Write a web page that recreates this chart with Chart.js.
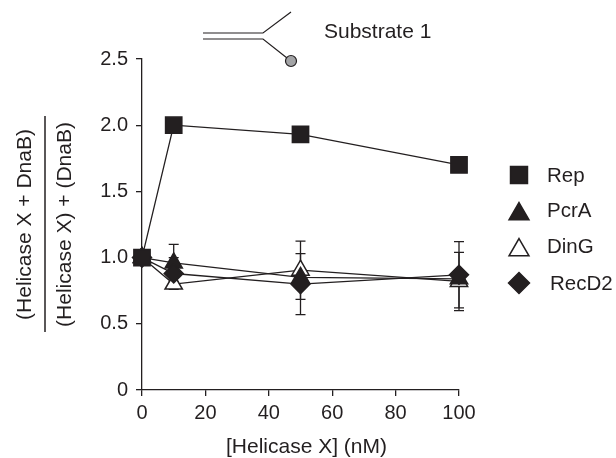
<!DOCTYPE html>
<html>
<head>
<meta charset="utf-8">
<style>
  html, body { margin: 0; background: #fff; }
  #wrap { width: 616px; height: 458px; }
</style>
<script src="https://cdn.jsdelivr.net/npm/chart.js@4/dist/chart.umd.min.js"></script>
</head>
<body>
<div id="wrap"><canvas id="chart"></canvas></div>
<script>
const ink = '#231f20';
const fontFamily = '"Liberation Sans", Arial, sans-serif';

const helicaseNm = [0, 10, 50, 100];
const rep = [1.0, 2.0, 1.93, 1.7];
const pcrA = [1.0, 0.96, 0.85, 0.84];
const dinG = [1.0, 0.8, 0.905, 0.82];
const recD2 = [1.0, 0.88, 0.8, 0.87];

const pcrAErr = [0, 0.14, 0, 0];
const dinGErr = [0, 0, 0.22, 0.22];
const recD2Err = [0, 0.12, 0.23, 0.25];

const toPoints = values => values.map((y, i) => ({ x: helicaseNm[i], y }));

function series(label, values, errors, pointStyle, radius, fill, order) {
    return {
        label,
        data: toPoints(values),
        errors,
        order,
        pointStyle,
        pointRadius: radius,
        pointHoverRadius: radius,
        pointBackgroundColor: fill,
        pointBorderColor: ink,
        pointBorderWidth: 1.5,
        borderColor: ink,
        borderWidth: 1.3,
        tension: 0,
        fill: false,
        clip: false
    };
}

// error bars sit under the markers
const errorBars = {
    id: 'errorBars',
    beforeDatasetsDraw(chart) {
        const { ctx, scales: { x, y } } = chart;
        ctx.save();
        ctx.strokeStyle = ink;
        ctx.lineWidth = 1.3;
        chart.data.datasets.forEach(ds => {
            (ds.errors || []).forEach((err, i) => {
                if (!err) return;
                const px = x.getPixelForValue(ds.data[i].x);
                const top = y.getPixelForValue(ds.data[i].y + err);
                const bottom = y.getPixelForValue(ds.data[i].y - err);
                ctx.beginPath();
                ctx.moveTo(px, top);
                ctx.lineTo(px, bottom);
                ctx.moveTo(px - 5, top);
                ctx.lineTo(px + 5, top);
                ctx.moveTo(px - 5, bottom);
                ctx.lineTo(px + 5, bottom);
                ctx.stroke();
            });
        });
        ctx.restore();
    }
};

// legend, x title, the fraction rule and the substrate sketch
const extras = {
    id: 'extras',
    afterDraw(chart) {
        const ctx = chart.ctx;
        ctx.save();
        ctx.strokeStyle = ink;
        ctx.fillStyle = ink;
        ctx.font = '20.5px ' + fontFamily;
        ctx.textBaseline = 'middle';

        const textRows = [176, 211, 247, 284];
        const markerRows = [175, 214, 250, 283];
        const textX = [547, 547, 547, 550];
        const sizes = [12, 11.5, 11.5, 10.5];
        chart.data.datasets.forEach((ds, i) => {
            ctx.lineWidth = 1.5;
            ctx.fillStyle = ds.pointBackgroundColor;
            Chart.helpers.drawPoint(ctx, { pointStyle: ds.pointStyle, radius: sizes[i], rotation: 0, borderWidth: 1.5 }, 519, markerRows[i]);
            ctx.fillStyle = ink;
            ctx.fillText(ds.label, textX[i], textRows[i]);
        });

        ctx.lineWidth = 1.5;
        ctx.beginPath();
        ctx.moveTo(45, 116);
        ctx.lineTo(45, 332);
        ctx.stroke();

        ctx.lineWidth = 1.2;
        ctx.beginPath();
        ctx.moveTo(203, 33);
        ctx.lineTo(263, 33);
        ctx.lineTo(291, 12);
        ctx.moveTo(203, 39);
        ctx.lineTo(263, 39);
        ctx.lineTo(287, 58);
        ctx.stroke();
        ctx.beginPath();
        ctx.arc(291, 61, 5.5, 0, Math.PI * 2);
        ctx.fillStyle = '#a3a4a6';
        ctx.fill();
        ctx.stroke();

        ctx.fillStyle = ink;
        ctx.font = '21px ' + fontFamily;
        ctx.fillText('Substrate 1', 324, 32);
        ctx.textAlign = 'center';
        ctx.fillText('[Helicase X] (nM)', 306.5, 447);
        ctx.restore();
    }
};

const tickOpts = {
    color: ink,
    padding: 5,
    font: { family: fontFamily, size: 20 },
    maxRotation: 0,
    autoSkip: false
};

const gridOpts = { drawOnChartArea: false, tickLength: 6, color: ink, lineWidth: 1.3 };
const borderOpts = { color: ink, width: 1.3 };

Chart.defaults.animation = false;

new Chart(document.getElementById('chart'), {
    type: 'line',
    data: {
        datasets: [
            series('Rep', rep, null, 'rect', 11.5, ink, 0),
            series('PcrA', pcrA, pcrAErr, 'triangle', 10, ink, 2),
            series('DinG', dinG, dinGErr, 'triangle', 10, '#ffffff', 3),
            series('RecD2', recD2, recD2Err, 'rectRot', 9.5, ink, 1)
        ]
    },
    options: {
        responsive: true,
        maintainAspectRatio: false,
        layout: { padding: { top: 59, right: 157, left: 0, bottom: 0 } },
        plugins: {
            legend: { display: false },
            tooltip: { enabled: false }
        },
        scales: {
            x: {
                type: 'linear',
                min: 0,
                max: 100,
                afterFit(scale) { scale.height = 68; },
                ticks: { ...tickOpts, stepSize: 20 },
                grid: gridOpts,
                border: borderOpts
            },
            y: {
                min: 0,
                max: 2.5,
                afterFit(scale) { scale.width = 142; },
                ticks: {
                    ...tickOpts,
                    padding: 8,
                    stepSize: 0.5,
                    callback: v => (v === 0 ? '0' : v.toFixed(1))
                },
                grid: gridOpts,
                border: borderOpts,
                title: {
                    display: true,
                    text: ['(Helicase X + DnaB)', '(Helicase X) + (DnaB)'],
                    color: ink,
                    font: { family: fontFamily, size: 21, lineHeight: 1.9 },
                    padding: { top: 5, bottom: 0 }
                }
            }
        }
    },
    plugins: [errorBars, extras]
});
</script>
</body>
</html>
